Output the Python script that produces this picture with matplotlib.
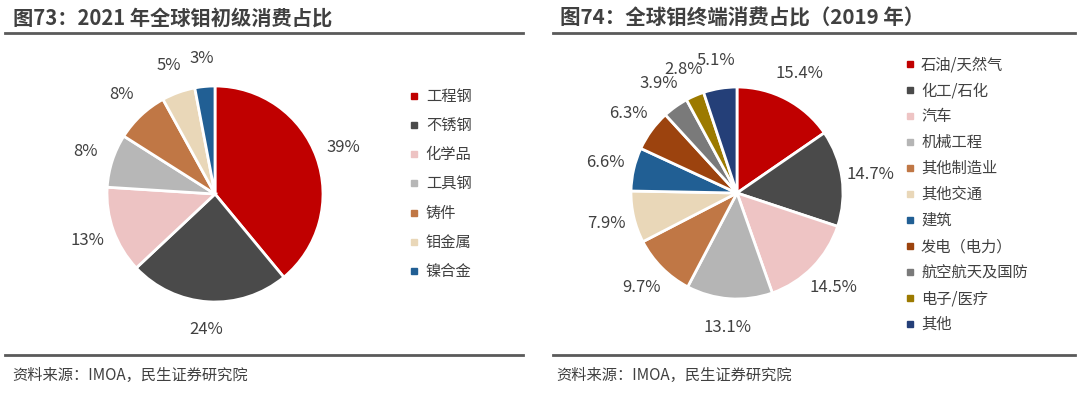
import numpy as np
import matplotlib
matplotlib.use("Agg")
from matplotlib import pyplot as plt
from matplotlib.lines import Line2D

plt.rcParams['font.family'] = ['Noto Sans CJK SC', 'DejaVu Sans']

# left chart: 2021 primary molybdenum use
left_cats = ['工程钢', '不锈钢', '化学品', '工具钢', '铸件', '钼金属', '镍合金']
left_vals = [39, 24, 13, 8, 8, 5, 3]
left_cols = ['#C00000', '#4A4A4A', '#EDC3C3', '#B7B7B7', '#C07745', '#E9D7B8', '#215F94']

# right chart: 2019 end-use
right_cats = ['石油/天然气', '化工/石化', '汽车', '机械工程', '其他制造业', '其他交通',
              '建筑', '发电（电力）', '航空航天及国防', '电子/医疗', '其他']
right_vals = [15.4, 14.7, 14.5, 13.1, 9.7, 7.9, 6.6, 6.3, 3.9, 2.8, 5.1]
right_cols = ['#C00000', '#4A4A4A', '#EEC4C4', '#B5B5B5', '#C07745', '#E9D7B8',
              '#215F94', '#9C430E', '#7A7A7A', '#9C7A00', '#243F78']

W, H = 1080, 393
fig = plt.figure(figsize=(W/100, H/100), dpi=100)
txtc = '#404040'

def pie_axes(cx, cy, r):
    half = 150
    ax = fig.add_axes([(cx-half)/W, (H-cy-half)/H, 2*half/W, 2*half/H])
    lim = half / r
    ax.set_xlim(-lim, lim)
    ax.set_ylim(-lim, lim)
    ax.set_aspect('equal')
    ax.axis('off')
    return ax

# left pie
ax1 = pie_axes(215, 194, 108)
w1, t1, a1 = ax1.pie(left_vals, colors=left_cols, startangle=90, counterclock=False,
                     autopct=lambda p: '%d%%' % round(p), pctdistance=1.26,
                     wedgeprops=dict(edgecolor='white', linewidth=2),
                     textprops=dict(color=txtc, fontsize=12), frame=True)
ax1.axis('off')
h1 = [Line2D([], [], marker='s', ls='', color=c, markersize=5) for c in left_cols]
fig.legend(h1, left_cats, loc='upper left', bbox_to_anchor=(409/W, 1-88/H),
           frameon=False, fontsize=11, labelspacing=0.8, handlelength=0.6,
           handletextpad=0.5, labelcolor=txtc, borderaxespad=0, borderpad=0)

# right pie
ax2 = pie_axes(737, 193, 106)
w2, t2, a2 = ax2.pie(right_vals, colors=right_cols, startangle=90, counterclock=False,
                     autopct='%.1f%%', pctdistance=1.27,
                     wedgeprops=dict(edgecolor='white', linewidth=2),
                     textprops=dict(color=txtc, fontsize=12), frame=True)
ax2.axis('off')
h2 = [Line2D([], [], marker='s', ls='', color=c, markersize=5) for c in right_cols]
fig.legend(h2, right_cats, loc='upper left', bbox_to_anchor=(905/W, 1-56/H),
           frameon=False, fontsize=11, labelspacing=0.59, handlelength=0.6,
           handletextpad=0.45, labelcolor=txtc, borderaxespad=0, borderpad=0)

# titles, rules, sources
fig.text(13/W, 1-18/H, '图73：2021 年全球钼初级消费占比', fontsize=14.6, fontweight='bold',
         color=txtc, va='center', ha='left')
fig.text(560/W, 1-18/H, '图74：全球钼终端消费占比（2019 年）', fontsize=14.8, fontweight='bold',
         color=txtc, va='center', ha='left')
for x0, x1 in [(5, 523), (553, 1075)]:
    for y in [33, 355]:
        fig.add_artist(Line2D([x0/W, x1/W], [1-y/H, 1-y/H], color='#5A5A5A', lw=2))
fig.text(12/W, 1-375/H, '资料来源：IMOA，民生证券研究院', fontsize=11, color=txtc,
         va='center', ha='left')
fig.text(556/W, 1-375/H, '资料来源：IMOA，民生证券研究院', fontsize=11, color=txtc,
         va='center', ha='left')

fig.savefig('out.png', dpi=100)
